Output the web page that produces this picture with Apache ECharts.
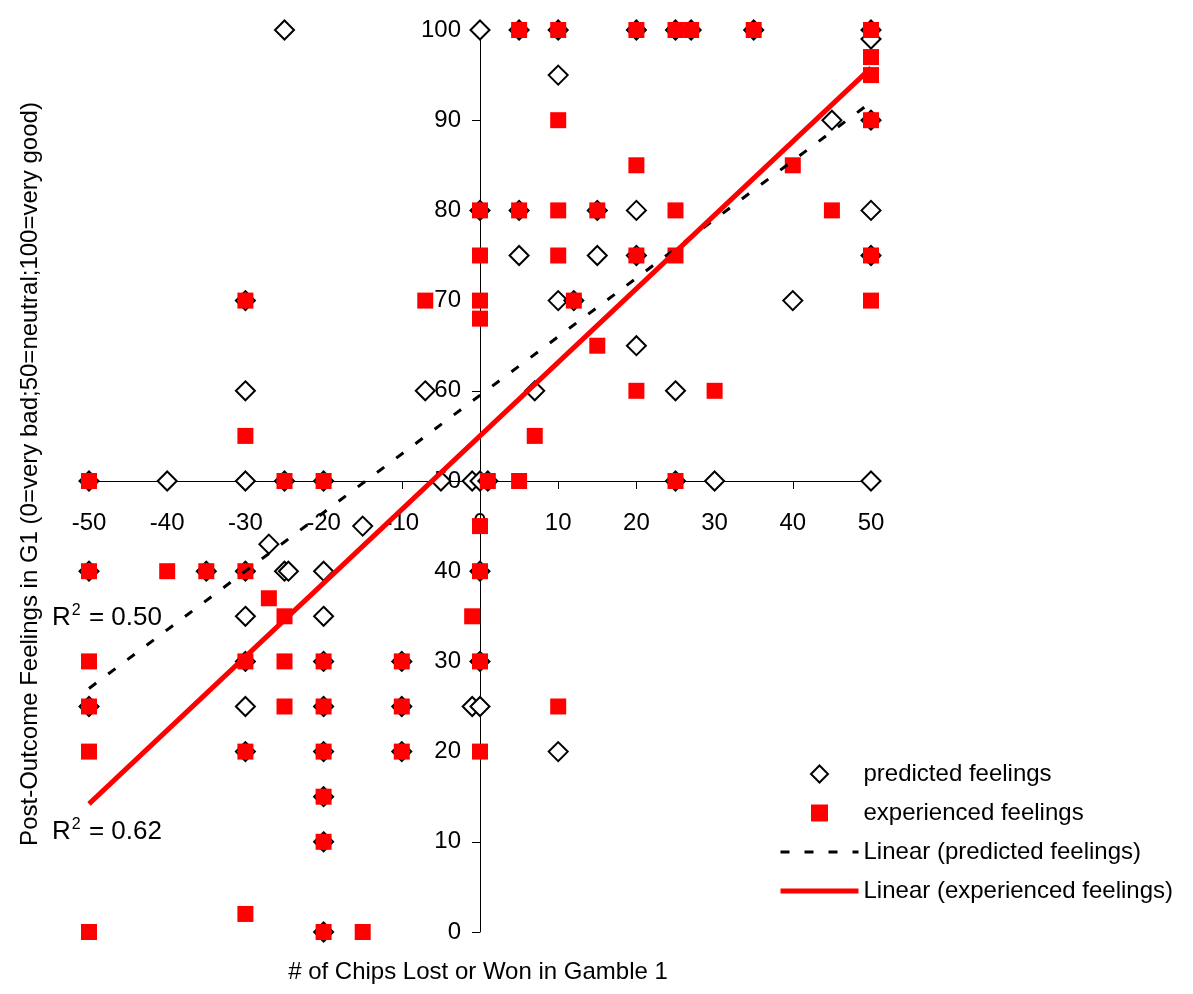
<!DOCTYPE html>
<html>
<head>
<meta charset="utf-8">
<script src="https://cdn.jsdelivr.net/npm/echarts@6/dist/echarts.min.js"></script>
<style>
html,body{margin:0;padding:0;background:#fff;}
#chart{width:1193px;height:994px;}
</style>
</head>
<body>
<div id="chart"></div>
<script>
// ---- data ----
const seriesNames = ['predicted feelings', 'experienced feelings', 'Linear (predicted feelings)', 'Linear (experienced feelings)'];

const predictedPoints = [
  [-25,100],[0,100],[5,100],[10,100],[20,100],[25,100],[27,100],[35,100],[50,100],
  [50,99],[10,95],
  [45,90],[50,90],
  [0,80],[5,80],[15,80],[20,80],[50,80],
  [5,75],[15,75],[20,75],[50,75],
  [-30,70],[10,70],[12,70],[40,70],
  [20,65],
  [-30,60],[-7,60],[7,60],[25,60],
  [-50,50],[-40,50],[-30,50],[-25,50],[-20,50],[-5,50],[-1,50],[0,50],[1,50],[25,50],[30,50],[50,50],
  [-15,45],[-27,43],
  [-50,40],[-35,40],[-30,40],[-25,40],[-24.5,40],[-20,40],[0,40],
  [-30,35],[-20,35],
  [-30,30],[-20,30],[-10,30],[0,30],
  [-50,25],[-30,25],[-20,25],[-10,25],[-1,25],[0,25],
  [-30,20],[-20,20],[-10,20],[10,20],
  [-20,15],[-20,10],[-20,0]
];

const experiencedPoints = [
  [5,100],[10,100],[20,100],[25,100],[27,100],[35,100],[50,100],
  [50,97],[50,95],
  [10,90],[50,90],
  [20,85],[40,85],
  [0,80],[5,80],[10,80],[15,80],[25,80],[45,80],
  [0,75],[10,75],[20,75],[25,75],[50,75],
  [-30,70],[-7,70],[0,70],[12,70],[50,70],
  [0,68],[15,65],
  [20,60],[30,60],
  [-30,55],[7,55],
  [-50,50],[-25,50],[-20,50],[1,50],[5,50],[25,50],
  [0,45],
  [-50,40],[-40,40],[-35,40],[-30,40],[0,40],
  [-27,37],[-25,35],[-1,35],
  [-50,30],[-30,30],[-25,30],[-20,30],[-10,30],[0,30],
  [-50,25],[-25,25],[-20,25],[-10,25],[10,25],
  [-50,20],[-30,20],[-20,20],[-10,20],[0,20],
  [-20,15],[-20,10],
  [-30,2],
  [-50,0],[-20,0],[-15,0]
];

const predictedTrend = [[-50,27],[50,92]];
const experiencedTrend = [[-50,14.2],[50,95.8]];
const rSquaredValues = ['0.50','0.62'];
const xAxisTitle = '# of Chips Lost or Won in Gamble 1';
const yAxisTitle = 'Post-Outcome Feelings in G1 (0=very bad;50=neutral;100=very good)';

// ---- chart ----
const FONT = '"Liberation Sans", Arial, Helvetica, sans-serif';
const chart = echarts.init(document.getElementById('chart'), null, {renderer:'canvas'});

const rRich = {
  r: {fontSize: 26, fontFamily: FONT, color: '#000', lineHeight: 30},
  s: {fontSize: 16, fontFamily: FONT, color: '#000', verticalAlign: 'top', lineHeight: 30, padding:[0,1,12,1]}
};

const DIAMOND_ICON = 'path://M0,-10L10,0L0,10L-10,0Z';
const SQUARE_ICON = 'path://M-8,-8L8,-8L8,8L-8,8Z';

const option = {
  animation: false,
  backgroundColor: '#fff',
  grid: {left: 89, right: 322, top: 30, bottom: 62, containLabel: false, outerBoundsMode: 'none'},
  xAxis: {
    type: 'value', min: -50, max: 50, interval: 10,
    position: 'bottom', offset: -451,
    axisLine: {onZero: false, lineStyle: {color: '#000', width: 1}},
    axisTick: {show: true, length: 8, lineStyle: {color: '#000'}},
    axisLabel: {fontSize: 24, fontFamily: FONT, color: '#000', margin: 30},
    splitLine: {show: false}
  },
  yAxis: {
    type: 'value', min: 0, max: 100, interval: 10,
    position: 'left', offset: -391,
    axisLine: {show: true, onZero: false, lineStyle: {color: '#000', width: 1}},
    axisTick: {show: true, length: 8, lineStyle: {color: '#000'}},
    axisLabel: {fontSize: 24, fontFamily: FONT, color: '#000', margin: 19},
    splitLine: {show: false}
  },
  legend: {
    orient: 'vertical', left: 778, top: 762, padding: 0,
    itemWidth: 78, itemHeight: 17, itemGap: 15,
    symbolKeepAspect: true,
    textStyle: {fontSize: 24, fontFamily: FONT, color: '#000', lineHeight: 24},
    data: [
      {name: seriesNames[0], icon: DIAMOND_ICON,
       itemStyle: {color: '#ffffff', borderColor: '#000000', borderWidth: 2}},
      {name: seriesNames[1], icon: SQUARE_ICON,
       itemStyle: {color: '#ff0000', borderWidth: 0}},
      {name: seriesNames[2], itemStyle: {opacity: 0},
       lineStyle: {color: '#000000', width: 3, type: [9, 15]}},
      {name: seriesNames[3], itemStyle: {opacity: 0},
       lineStyle: {color: '#ff0000', width: 5}}
    ]
  },
  graphic: [
    {type: 'text', x: 30, y: 474, rotation: Math.PI/2,
     style: {text: yAxisTitle, fontSize: 24, fontFamily: FONT, fill: '#000', align: 'center', verticalAlign: 'middle'}},
    {type: 'text', x: 478, y: 972,
     style: {text: xAxisTitle, fontSize: 24, fontFamily: FONT, fill: '#000', align: 'center', verticalAlign: 'middle'}},
    {type: 'text', x: 52, y: 618,
     style: {text: '{r|R}{s|2}{r| = ' + rSquaredValues[0] + '}', rich: rRich, align: 'left', verticalAlign: 'middle'}},
    {type: 'text', x: 52, y: 832,
     style: {text: '{r|R}{s|2}{r| = ' + rSquaredValues[1] + '}', rich: rRich, align: 'left', verticalAlign: 'middle'}}
  ],
  series: [
    {
      name: seriesNames[0], type: 'scatter', data: predictedPoints,
      symbol: 'diamond', symbolSize: 19,
      itemStyle: {color: '#ffffff', borderColor: '#000000', borderWidth: 2, opacity: 1},
      emphasis: {disabled: true}
    },
    {
      name: seriesNames[1], type: 'scatter', data: experiencedPoints,
      symbol: 'rect', symbolSize: 16,
      itemStyle: {color: '#ff0000', opacity: 1},
      emphasis: {disabled: true}
    },
    {
      name: seriesNames[2], type: 'line', data: predictedTrend,
      symbol: 'none', silent: true,
      lineStyle: {color: '#000000', width: 3, type: [9, 15]},
      itemStyle: {color: '#000000'}
    },
    {
      name: seriesNames[3], type: 'line', data: experiencedTrend,
      symbol: 'none', silent: true,
      lineStyle: {color: '#ff0000', width: 5},
      itemStyle: {color: '#ff0000'}
    }
  ]
};
chart.setOption(option);
</script>
</body>
</html>
